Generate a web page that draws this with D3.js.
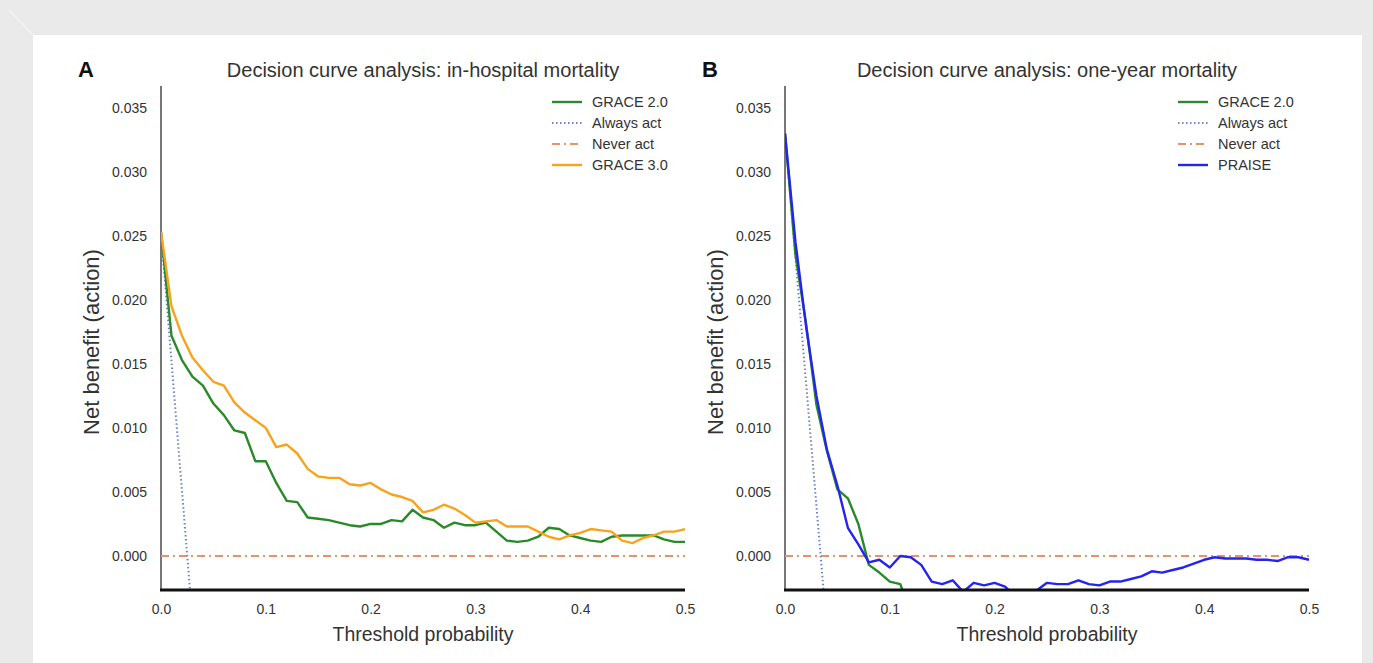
<!DOCTYPE html>
<html>
<head>
<meta charset="utf-8">
<script src="https://cdn.jsdelivr.net/npm/d3@7"></script>
<style>
  body { margin: 0; background: #e9eae9; }
  svg { display: block; font-family: "Liberation Sans", Arial, sans-serif; }
</style>
</head>
<body>
<div class="mmp"></div>
<script>
// threshold probabilities (0.00 .. 0.50 step 0.01)
var thresholds = d3.range(0, 51).map(function(i) { return i / 100; });

// panel A: in-hospital mortality
var gracev2InHospital = [0.0253, 0.0172, 0.0153, 0.0140, 0.0133, 0.0119, 0.0110, 0.0098, 0.0096, 0.0074,
  0.0074, 0.0057, 0.0043, 0.0042, 0.0030, 0.0029, 0.0028, 0.0026, 0.0024, 0.0023,
  0.0025, 0.0025, 0.0028, 0.0027, 0.0036, 0.0030, 0.0028, 0.0022, 0.0026, 0.0024,
  0.0024, 0.0026, 0.0019, 0.0012, 0.0011, 0.0012, 0.0015, 0.0022, 0.0021, 0.0016,
  0.0014, 0.0012, 0.0011, 0.0015, 0.0016, 0.0016, 0.0016, 0.0016, 0.0013, 0.0011, 0.0011];
var gracev3InHospital = [0.0253, 0.0195, 0.0172, 0.0155, 0.0145, 0.0136, 0.0133, 0.0120, 0.0112, 0.0106,
  0.0100, 0.0085, 0.0087, 0.0080, 0.0068, 0.0062, 0.0061, 0.0061, 0.0056, 0.0055,
  0.0057, 0.0052, 0.0048, 0.0046, 0.0043, 0.0034, 0.0036, 0.0040, 0.0037, 0.0032,
  0.0026, 0.0027, 0.0028, 0.0023, 0.0023, 0.0023, 0.0019, 0.0015, 0.0013, 0.0016,
  0.0018, 0.0021, 0.0020, 0.0019, 0.0012, 0.0010, 0.0014, 0.0016, 0.0019, 0.0019, 0.0021];
var alwaysActA = { t: [0, 0.03], v: [0.0253, -0.0050] };

// panel B: one-year mortality
var gracev2OneYear = [0.0330, 0.0235, 0.0182, 0.0118, 0.0082, 0.0052, 0.0045, 0.0025, -0.0007, -0.0013,
  -0.0020, -0.0022, -0.0045];
var praiseOneYear = [0.0330, 0.0245, 0.0180, 0.0125, 0.0083, 0.0055, 0.0022, 0.0009, -0.0005, -0.0003,
  -0.0009, 0.0000, -0.0001, -0.0007, -0.0020, -0.0022, -0.0019, -0.0028, -0.0021, -0.0023,
  -0.0021, -0.0024, -0.0032, -0.0033, -0.0027, -0.0021, -0.0022, -0.0022, -0.0019, -0.0022,
  -0.0023, -0.0020, -0.0020, -0.0018, -0.0016, -0.0012, -0.0013, -0.0011, -0.0009, -0.0006,
  -0.0003, -0.0001, -0.0002, -0.0002, -0.0002, -0.0003, -0.0003, -0.0004, -0.0001, -0.0001, -0.0003];
var alwaysActB = { t: [0, 0.04], v: [0.0330, -0.0058] };

var yTicks = [0, 0.005, 0.010, 0.015, 0.020, 0.025, 0.030, 0.035];
var xTicks = [0, 0.1, 0.2, 0.3, 0.4, 0.5];

var w = 1373, h = 663;
var svg = d3.select(".mmp").append("svg").attr("width", w).attr("height", h);

svg.append("rect").attr("width", w).attr("height", h).attr("fill", "#e9eae9");
svg.append("line").attr("x1", 9).attr("y1", 10).attr("x2", 33).attr("y2", 35).attr("stroke", "#f3f3f3").attr("stroke-width", 1.5);
svg.append("rect").attr("x", 33).attr("y", 35).attr("width", 1329).attr("height", h - 35).attr("fill", "#fff");

function drawPanel(opt) {
  var x = d3.scaleLinear().domain([0, 0.5]).range([opt.left, opt.left + 524]);
  var y = d3.scaleLinear().domain([-0.00266, 0.0367]).range([590, 86]);
  var g = svg.append("g");

  g.append("clipPath").attr("id", opt.id)
    .append("rect").attr("x", opt.left).attr("y", 86).attr("width", 530).attr("height", 503);

  // y axis (labels only, plus left spine)
  var yAxis = d3.axisLeft(y).tickValues(yTicks).tickFormat(d3.format(".3f")).tickSize(0).tickPadding(14);
  var ya = g.append("g").attr("transform", "translate(" + opt.left + ",0)").call(yAxis);
  ya.select(".domain").remove();
  ya.selectAll("text").attr("font-size", 14).attr("fill", "#333").attr("font-family", "Liberation Sans, Arial, sans-serif");

  var xAxis = d3.axisBottom(x).tickValues(xTicks).tickFormat(d3.format(".1f")).tickSize(0).tickPadding(14);
  var xa = g.append("g").attr("transform", "translate(0,590)").call(xAxis);
  xa.select(".domain").remove();
  xa.selectAll("text").attr("font-size", 14).attr("fill", "#333").attr("font-family", "Liberation Sans, Arial, sans-serif");

  g.append("line").attr("x1", opt.left).attr("x2", opt.left).attr("y1", 86).attr("y2", 590)
    .attr("stroke", "#555").attr("stroke-width", 1.6);

  var line = d3.line().x(function(d) { return x(d[0]); }).y(function(d) { return y(d[1]); });
  var plot = g.append("g").attr("clip-path", "url(#" + opt.id + ")");

  // never act
  plot.append("path").datum([[0, 0], [0.5, 0]]).attr("d", line)
    .attr("fill", "none").attr("stroke", "#e3956a").attr("stroke-width", 2).attr("stroke-dasharray", "8,4,2,4");
  // always act
  plot.append("path").datum(d3.zip(opt.always.t, opt.always.v)).attr("d", line)
    .attr("fill", "none").attr("stroke", "#6f82c6").attr("stroke-width", 2).attr("stroke-dasharray", "1.5,2.5");

  opt.series.forEach(function(s) {
    var pts = s.values.map(function(v, i) { return [thresholds[i], v]; });
    plot.append("path").datum(pts).attr("d", line)
      .attr("fill", "none").attr("stroke", s.color).attr("stroke-width", 2.4).attr("stroke-linejoin", "round");
  });

  // bottom spine
  g.append("line").attr("x1", opt.left - 1).attr("x2", opt.left + 524).attr("y1", 590).attr("y2", 590)
    .attr("stroke", "#111").attr("stroke-width", 3);

  // titles
  g.append("text").attr("x", opt.left + 262).attr("y", 77).attr("text-anchor", "middle")
    .attr("font-size", 20).attr("fill", "#333").text(opt.title);
  g.append("text").attr("x", opt.left - 83).attr("y", 77).attr("font-size", 22).attr("font-weight", "bold")
    .attr("fill", "#111").text(opt.letter);
  g.append("text").attr("x", opt.left + 262).attr("y", 641).attr("text-anchor", "middle")
    .attr("font-size", 19.5).attr("fill", "#333").text("Threshold probability");
  g.append("text").attr("transform", "translate(" + (opt.left - 62) + ",342) rotate(-90)")
    .attr("text-anchor", "middle").attr("font-size", 22).attr("fill", "#333").text("Net benefit (action)");

  // legend
  var leg = [
    { name: opt.series[0].name, color: opt.series[0].color, dash: null, w: 2.4 },
    { name: "Always act", color: "#6f82c6", dash: "1.5,2.5", w: 2 },
    { name: "Never act", color: "#e3956a", dash: "8,4,2,4", w: 2 },
    { name: opt.series[1].name, color: opt.series[1].color, dash: null, w: 2.4 }
  ];
  var lg = g.append("g").attr("transform", "translate(" + (opt.left + opt.legendX) + ",102)");
  leg.forEach(function(d, i) {
    lg.append("line").attr("x1", 0).attr("x2", 30).attr("y1", i * 21).attr("y2", i * 21)
      .attr("stroke", d.color).attr("stroke-width", d.w).attr("stroke-dasharray", d.dash);
    lg.append("text").attr("x", 40).attr("y", i * 21 + 5).attr("font-size", 14.5).attr("fill", "#333").text(d.name);
  });
}

drawPanel({
  id: "clipA", left: 161, letter: "A", legendX: 391,
  title: "Decision curve analysis: in-hospital mortality",
  always: alwaysActA,
  series: [
    { name: "GRACE 2.0", color: "#2a8a2a", values: gracev2InHospital },
    { name: "GRACE 3.0", color: "#f9a21c", values: gracev3InHospital }
  ]
});

drawPanel({
  id: "clipB", left: 785, letter: "B", legendX: 393,
  title: "Decision curve analysis: one-year mortality",
  always: alwaysActB,
  series: [
    { name: "GRACE 2.0", color: "#2a8a2a", values: gracev2OneYear },
    { name: "PRAISE", color: "#2424f0", values: praiseOneYear }
  ]
});
</script>
</body>
</html>
